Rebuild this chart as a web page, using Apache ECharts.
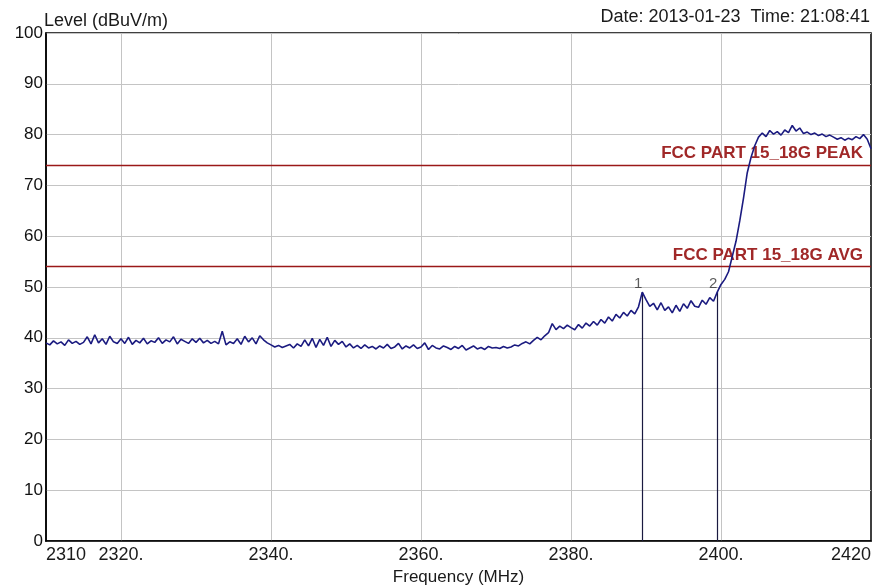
<!DOCTYPE html>
<html><head><meta charset="utf-8">
<script src="https://cdn.jsdelivr.net/npm/echarts@6/dist/echarts.min.js"></script>
<style>html,body{margin:0;padding:0;background:#fff}#c{width:887px;height:587px}</style>
</head><body><div id="c"></div>
<script>
const FREQ_START = 2310, FREQ_STEP = 0.5;
const levels = [
39.0,38.6,39.4,38.8,39.2,38.5,39.6,38.9,39.3,38.7,
39.1,40.2,38.8,40.6,39.0,39.8,38.7,40.3,39.2,38.9,
39.8,38.9,40.1,38.7,39.5,39.0,39.9,38.8,39.4,39.1,
40.0,38.9,39.6,39.2,40.2,38.8,39.7,39.3,38.9,39.8,
39.1,39.9,39.0,39.5,38.9,39.3,38.8,41.3,38.6,39.2,
38.9,39.8,38.7,40.3,39.2,40.0,38.8,40.4,39.6,39.0,
38.6,38.2,38.5,38.1,38.4,38.7,38.0,38.8,38.3,39.6,
38.4,39.9,38.1,39.7,38.5,40.1,38.3,39.5,38.7,39.3,
38.2,38.8,38.0,38.5,37.9,38.6,38.0,38.3,37.8,38.4,
38.0,38.7,37.9,38.2,38.9,37.8,38.4,38.0,38.6,37.9,
38.2,39.0,37.7,38.5,38.0,37.8,38.4,38.1,37.7,38.3,
37.9,38.5,37.6,38.0,38.4,37.8,38.1,37.7,38.3,38.0,
38.1,37.9,38.3,38.0,38.2,38.6,38.4,38.9,39.2,38.8,
39.5,40.1,39.6,40.4,41.0,42.8,41.6,42.3,41.8,42.5,
42.0,41.6,42.6,41.9,42.9,42.3,43.2,42.5,43.6,42.9,
44.1,43.3,44.6,43.9,45.0,44.3,45.4,44.7,46.1,49.0,
47.5,46.2,46.8,45.5,46.9,45.4,46.1,44.9,46.4,45.2,
46.7,45.8,47.3,46.2,46.0,47.4,46.6,47.9,47.2,49.0,
50.5,51.5,53.0,56.0,59.0,63.0,67.5,72.5,75.5,77.8,
79.5,80.3,79.6,80.8,80.1,80.6,79.9,80.9,80.4,81.8,
80.7,81.3,80.2,80.5,80.0,80.3,79.8,80.1,79.6,79.9,
79.5,79.1,79.4,78.9,79.3,79.0,79.6,79.2,80.0,79.1,
77.2
];
const limitValues = [74, 54];
const limitNames = ['FCC PART 15_18G PEAK', 'FCC PART 15_18G AVG'];
const markerFreqs = [2389.5, 2399.5];
const markerLevels = [49.0, 49.0];
const markerNames = ['1', '2'];
const xTickValues = [2310, 2320, 2340, 2360, 2380, 2400, 2420];
const xGridValues = [2320, 2340, 2360, 2380, 2400];

const trace = levels.map((v, i) => [FREQ_START + i * FREQ_STEP, v]);
const chart = echarts.init(document.getElementById('c'), null, {renderer: 'canvas'});
const sans = '"Liberation Sans", Arial, sans-serif';
chart.setOption({
  animation: false,
  backgroundColor: '#fff',
  grid: {left: 46, right: 16, top: 33, bottom: 46, show: true, borderColor: '#000', borderWidth: 1.5,
    containLabel: false, outerBoundsMode: 'none'},
  graphic: [
    {type: 'text', left: 44, top: 12, z: 10, style: {text: 'Level (dBuV/m)', font: '18px ' + sans, fill: '#1a1a1a'}},
    {type: 'text', right: 17, top: 8, z: 10, style: {text: 'Date: 2013-01-23  Time: 21:08:41', font: '18px ' + sans, fill: '#1a1a1a'}}
  ],
  xAxis: {
    type: 'value', min: 2310, max: 2420,
    name: 'Frequency (MHz)', nameLocation: 'middle', nameGap: 28,
    nameTextStyle: {fontFamily: sans, fontSize: 17, color: '#1a1a1a'},
    axisLine: {show: true, lineStyle: {color: '#000', width: 1.5}},
    axisTick: {show: false, customValues: xGridValues},
    axisLabel: {customValues: xTickValues, fontFamily: sans, fontSize: 18, color: '#1a1a1a', margin: 5,
      alignMinLabel: 'left', alignMaxLabel: 'right',
      formatter: v => (v === 2310 || v === 2420) ? String(v) : v + '.'},
    splitLine: {show: true, lineStyle: {color: '#c4c4c4', width: 1}}
  },
  yAxis: {
    type: 'value', min: 0, max: 100, interval: 10,
    axisLine: {show: true, lineStyle: {color: '#000', width: 1.5}},
    axisTick: {show: false},
    axisLabel: {fontFamily: sans, fontSize: 17, color: '#111', margin: 3},
    splitLine: {show: true, lineStyle: {color: '#c4c4c4', width: 1}}
  },
  series: [
    {
      type: 'line', data: trace, showSymbol: false, symbol: 'none',
      lineStyle: {color: '#1b1b80', width: 1.6}, z: 5,
      markLine: {
        silent: true, symbol: 'none', animation: false,
        data: limitValues.map((v, i) => ({
          yAxis: v,
          lineStyle: {color: '#9a1818', width: 1.3, type: 'solid'},
          label: {show: true, position: 'insideEndTop', formatter: limitNames[i], color: '#a02828',
            fontWeight: 'bold', fontSize: 17, fontFamily: sans, distance: [8, 3]}
        })).concat(markerFreqs.map((f, i) => [
          {coord: [f, 0], lineStyle: {color: '#1a1a40', width: 1.2, type: 'solid'}, label: {show: false}},
          {coord: [f, markerLevels[i]]}
        ]))
      }
    },
    {
      type: 'scatter', symbolSize: 0, z: 6,
      data: markerFreqs.map((f, i) => [f, markerLevels[i]]),
      label: {show: true, position: 'top', offset: [-4, 4], color: '#333', fontSize: 15,
        fontFamily: sans, formatter: p => markerNames[p.dataIndex]}
    }
  ]
});
</script></body></html>
